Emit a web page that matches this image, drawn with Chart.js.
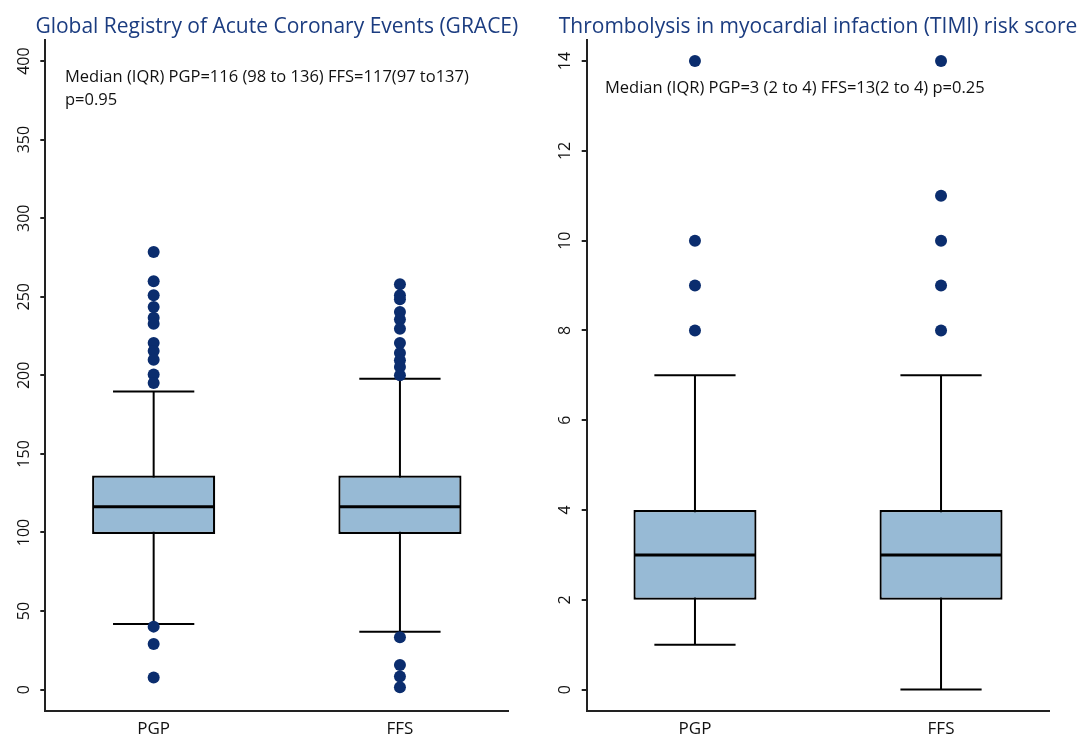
<!DOCTYPE html>
<html>
<head>
<meta charset="utf-8">
<script src="https://cdn.jsdelivr.net/npm/chart.js@4.4.1/dist/chart.umd.min.js"></script>
<style>
  html, body { margin: 0; padding: 0; background: #fff; }
  #wrap { position: relative; width: 1078px; height: 740px; overflow: hidden; }
  .panel { position: absolute; top: 0; height: 740px; }
  #left { left: 0; width: 540px; }
  #right { left: 540px; width: 538px; }
</style>
</head>
<body>
<div id="wrap">
  <div class="panel" id="left"><canvas id="graceChart"></canvas></div>
  <div class="panel" id="right"><canvas id="timiChart"></canvas></div>
</div>
<script>
const groups = ['PGP', 'FFS'];

// GRACE : [moustache basse, Q1, médiane, Q3, moustache haute]
const gracePGP = [41.8, 99.1, 116.4, 136.3, 189.8];
const graceFFS = [36.9, 99.1, 116.4, 136.3, 197.9];
const graceOutPGP = [278.5, 259.9, 251, 243.5, 236.7, 232.9, 220.6, 215.5, 210, 200.6, 195.1, 40.1, 29.1, 7.8];
const graceOutFFS = [258, 251, 248.4, 240.3, 235.5, 229.7, 220.6, 214.2, 209.6, 205.3, 200, 33.3, 15.7, 8.3, 1.5];
const graceTicks = [0, 50, 100, 150, 200, 250, 300, 350, 400];

// TIMI
const timiPGP = [1, 2, 3, 4, 7];
const timiFFS = [0, 2, 3, 4, 7];
const timiOutPGP = [8, 9, 10, 14];
const timiOutFFS = [8, 9, 10, 11, 14];
const timiTicks = [0, 2, 4, 6, 8, 10, 12, 14];

const boxFill = '#97bad5';
const dotColor = '#0b2d6e';
const titleColor = '#1b3c80';
const font = "'Open Sans', sans-serif";

// moustaches + médianes + textes
const boxPlot = {
  id: 'boxPlot',
  beforeDatasetsDraw(chart, args, opts) {
    const { ctx, scales: { x, y } } = chart;
    ctx.save();
    ctx.strokeStyle = '#000';
    ctx.lineWidth = 2;
    opts.stats.forEach((s, i) => {
      const px = x.getPixelForValue(i + 1);
      const half = x.getPixelForValue(i + 1 + opts.capWidth / 2) - px;
      ctx.beginPath();
      ctx.moveTo(px, y.getPixelForValue(s[0]));
      ctx.lineTo(px, y.getPixelForValue(s[4]));
      ctx.stroke();
      [s[0], s[4]].forEach(v => {
        const py = y.getPixelForValue(v);
        ctx.beginPath();
        ctx.moveTo(px - half, py);
        ctx.lineTo(px + half, py);
        ctx.stroke();
      });
    });
    ctx.restore();
  },
  afterDatasetDraw(chart, args, opts) {
    if (args.meta.type !== 'bar') return;
    const { ctx, scales: { y } } = chart;
    ctx.save();
    ctx.strokeStyle = '#000';
    ctx.lineWidth = 3;
    args.meta.data.forEach((bar, i) => {
      const { x, width } = bar.getProps(['x', 'width'], true);
      const py = y.getPixelForValue(opts.stats[i][2]);
      ctx.beginPath();
      ctx.moveTo(x - width / 2 + 1, py);
      ctx.lineTo(x + width / 2 - 1, py);
      ctx.stroke();
    });
    ctx.restore();
  },
  afterDraw(chart, args, opts) {
    const { ctx, chartArea } = chart;
    ctx.save();
    ctx.textAlign = 'center';
    ctx.textBaseline = 'alphabetic';
    ctx.fillStyle = titleColor;
    ctx.font = '21px ' + font;
    ctx.fillText(opts.title, (chartArea.left + chartArea.right) / 2, 33);
    ctx.textAlign = 'left';
    ctx.fillStyle = '#111';
    ctx.font = '16.5px ' + font;
    opts.notes.forEach(n => ctx.fillText(n.text, n.x, n.y));
    ctx.restore();
  }
};

function makeChart(id, stats, outliers, ticks, yMin, yMax, title, notes, pad, yWidth, labelPad) {
  return new Chart(document.getElementById(id), {
    type: 'bar',
    data: {
      datasets: [
        {
          type: 'scatter',
          data: outliers.flatMap((list, i) => list.map(v => ({ x: i + 1, y: v }))),
          pointRadius: 6,
          pointHoverRadius: 6,
          backgroundColor: dotColor,
          borderWidth: 0
        },
        {
          type: 'bar',
          data: stats.map((s, i) => ({ x: i + 1, y: [s[1], s[3]] })),
          backgroundColor: boxFill,
          borderColor: '#000',
          borderWidth: 2.2,
          borderSkipped: false,
          categoryPercentage: 1,
          barPercentage: 0.5
        }
      ]
    },
    options: {
      responsive: true,
      maintainAspectRatio: false,
      animation: false,
      events: [],
      devicePixelRatio: 1,
      layout: { padding: pad },
      plugins: {
        legend: { display: false },
        tooltip: { enabled: false },
        boxPlot: { stats: stats, capWidth: 0.33, title: title, notes: notes }
      },
      scales: {
        x: {
          type: 'linear',
          min: 0.56,
          max: 2.44,
          offset: false,
          afterBuildTicks: s => { s.ticks = groups.map((g, i) => ({ value: i + 1 })); },
          afterFit: s => { s.height = 29.3; },
          grid: { display: false, drawTicks: false },
          border: { display: true, color: '#222', width: 2 },
          ticks: {
            padding: 8,
            color: '#111',
            font: { family: font, size: 17 },
            callback: v => groups[v - 1]
          }
        },
        y: {
          type: 'linear',
          min: yMin,
          max: yMax,
          afterBuildTicks: s => { s.ticks = ticks.map(v => ({ value: v })); },
          afterFit: s => { s.width = yWidth; },
          grid: { drawOnChartArea: false, drawTicks: true, tickLength: 5, color: '#222', lineWidth: 2 },
          border: { display: true, color: '#222', width: 2 },
          ticks: {
            minRotation: 90,
            maxRotation: 90,
            crossAlign: 'center',
            padding: labelPad,
            color: '#111',
            font: { family: font, size: 16 }
          }
        }
      }
    },
    plugins: [boxPlot]
  });
}

makeChart('graceChart', [gracePGP, graceFFS], [graceOutPGP, graceOutFFS], graceTicks, -13.4, 413.4,
  'Global Registry of Acute Coronary Events (GRACE)',
  [
    { text: 'Median (IQR) PGP=116 (98 to 136) FFS=117(97 to137)', x: 65, y: 81.7 },
    { text: 'p=0.95', x: 65, y: 105 }
  ],
  { left: 0, right: 31.7, top: 40, bottom: 0 }, 45.3, 2);

makeChart('timiChart', [timiPGP, timiFFS], [timiOutPGP, timiOutFFS], timiTicks, -0.47, 14.47,
  'Thrombolysis in myocardial infaction (TIMI) risk score',
  [
    { text: 'Median (IQR) PGP=3 (2 to 4) FFS=13(2 to 4) p=0.25', x: 65, y: 93.2 }
  ],
  { left: 0, right: 28.7, top: 40, bottom: 0 }, 46.7, 7.5);
</script>
</body>
</html>
